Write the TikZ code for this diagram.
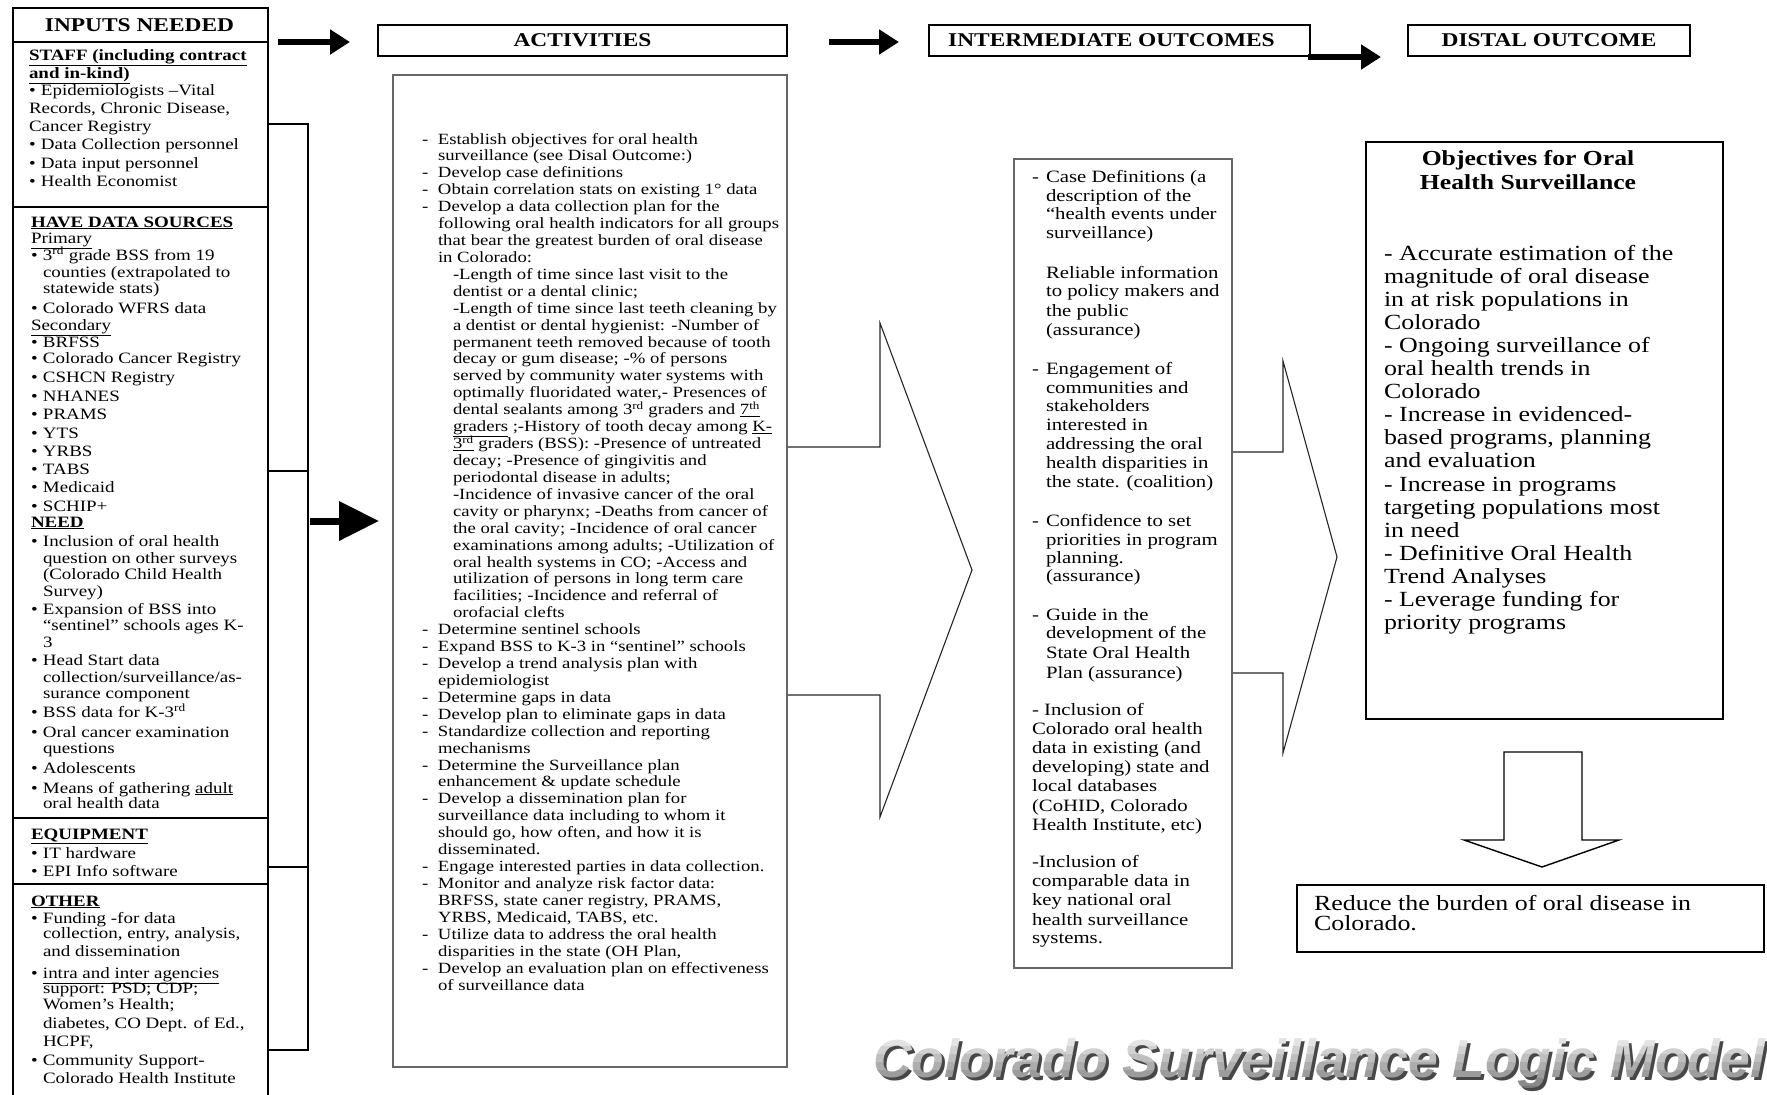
\documentclass[tikz,border=0pt]{standalone}
\usepackage{fontspec}
\setmainfont{Liberation Serif}[FakeStretch=1.2]
\newfontfamily\titlefont{Liberation Sans}
\usetikzlibrary{arrows.meta}

\newcommand\fs[2]{\fontsize{#1}{#2}\selectfont}
% bullets and indents of the inputs column
\newcommand\bul{\makebox[12pt][l]{\textbullet}}
\newcommand\ind{\hspace*{12pt}}
% dashes and indents of the activities column
\newcommand\adash{\makebox[16pt][l]{-}}
\newcommand\aind{\hspace*{16pt}}
\newcommand\asub{\hspace*{31pt}}
% dashes and indents of the outcomes column
\newcommand\odash{\makebox[14pt][l]{-}}
\newcommand\oind{\hspace*{14pt}}
\newcommand\titletext{Colorado Surveillance Logic Model}

% lines at given baselines: name prefix, x, list of y/text
\newcommand\placelines[3]{%
  \foreach \yy/\ln [count=\k] in {#3}{\node[txt] (#1\k) at (#2,\yy) {\ln};}}
% evenly spaced lines: name prefix, x, first baseline, skip, list of texts
\newcommand\evenlines[5]{%
  \foreach \ln [count=\k] in {#5}{\node[txt] (#1\k) at ({#2},{#3+(\k-1)*#4}) {\ln};}}

\begin{document}
\begin{tikzpicture}[x=1pt,y=-1pt,
  txt/.style={anchor=base west, inner sep=0pt, outer sep=0pt},
  frame/.style={draw=black, line width=1.6pt},
  grayframe/.style={draw=black!60, line width=1.8pt},
  hdr/.style={frame, inner sep=0pt, minimum height=31pt, font=\bfseries\fs{19.5}{21}},
  box/.style={inner sep=0pt, anchor=north west},
  thinline/.style={draw=black, line width=1.1pt},
  chevron/.style={draw=black!85, line width=1.1pt, line join=miter},
  blockarrow/.style={line width=6pt, -{Triangle[length=20pt,width=24pt]}},
  bigarrow/.style={line width=7pt, -{Triangle[length=40pt,width=38pt]}},
  titlestyle/.style={anchor=base west, inner sep=0pt, font=\titlefont\bfseries\itshape\fs{53.5}{60}},
]
\useasboundingbox (0,0) rectangle (1767,1095);
\fill[white] (0,0) rectangle (1767,1095);

%% ---------- inputs column ----------
\node[box, frame, minimum width=255pt, minimum height=1100pt] (inputs) at (12,7) {};
\node[anchor=center, inner sep=0pt, font=\bfseries\fs{19.5}{21}] (inputshead) at (139.5,25) {INPUTS NEEDED};
\foreach \yy in {42,207,818,884}{\draw[line width=1.6pt] (12,\yy) -- (267,\yy);}

\begin{scope}[every node/.append style={font=\fs{15.8}{18}}]
\placelines{staff}{29}{
  60/{\underline{\textbf{STAFF (including contract}}},
  78/{\underline{\textbf{and in-kind)}}},
  95/{\bul Epidemiologists –Vital},
  113/{Records, Chronic Disease,},
  131/{Cancer Registry},
  149/{\bul Data Collection personnel},
  168/{\bul Data input personnel},
  186/{\bul Health Economist}}
\placelines{src}{31}{
  227/{\underline{\textbf{HAVE DATA SOURCES}}},
  243/{\underline{Primary}},
  260/{\bul 3\textsuperscript{rd} grade BSS from 19},
  277/{\ind counties (extrapolated to},
  293/{\ind statewide stats)},
  313/{\bul Colorado WFRS data},
  330/{\underline{Secondary}},
  347/{\bul BRFSS},
  363/{\bul Colorado Cancer Registry},
  382/{\bul CSHCN Registry},
  401/{\bul NHANES},
  419/{\bul PRAMS},
  438/{\bul YTS},
  456/{\bul YRBS},
  474/{\bul TABS},
  492/{\bul Medicaid},
  511/{\bul SCHIP+}}
\placelines{need}{31}{
  527/{\underline{\textbf{NEED}}},
  546/{\bul Inclusion of oral health},
  563/{\ind question on other surveys},
  579/{\ind (Colorado Child Health},
  596/{\ind Survey)},
  614/{\bul Expansion of BSS into},
  630/{\ind ``sentinel'' schools ages K-},
  647/{\ind 3},
  665/{\bul Head Start data},
  682/{\ind collection/surveillance/as-},
  698/{\ind surance component},
  717/{\bul BSS data for K-3\textsuperscript{rd}},
  737/{\bul Oral cancer examination},
  753/{\ind questions},
  773/{\bul Adolescents},
  793/{\bul Means of gathering \underline{adult}},
  808/{\ind oral health data}}
\placelines{equip}{31}{
  839/{\underline{\textbf{EQUIPMENT}}},
  858/{\bul IT hardware},
  876/{\bul EPI Info software}}
\placelines{other}{31}{
  906/{\underline{\textbf{OTHER}}},
  923/{\bul Funding -for data},
  938/{\ind collection, entry, analysis,},
  956/{\ind and dissemination},
  978/{\bul \underline{intra and inter agencies}},
  993/{\ind support: PSD; CDP;},
  1009/{\ind Women’s Health;},
  1028/{\ind diabetes, CO Dept. of Ed.,},
  1046/{\ind HCPF,},
  1065/{\bul Community Support-},
  1083/{\ind Colorado Health Institute}}
\end{scope}

% bracket gathering the inputs
\coordinate (brtop) at (308,124);
\coordinate (brbot) at (308,1050);
\draw[thinline] (267,124) -- (brtop) -- (brbot) -- (267,1050);
\draw[thinline] (267,471) -- (308,471);
\draw[thinline] (267,867) -- (308,867);
\coordinate (bigs) at (310,521);
\coordinate (bige) at (379,521);
\draw[bigarrow] (bigs) -- (bige);

%% ---------- column headers ----------
\node[hdr, minimum width=409pt] (acthead) at (582.5,40.5) {ACTIVITIES};
\node[hdr, minimum width=381pt] (inthead) at (1119.5,40.5) {INTERMEDIATE OUTCOMES\hspace*{16pt}};
\node[hdr, minimum width=282pt] (disthead) at (1549,40.5) {DISTAL OUTCOME};
\coordinate (a1s) at (278,42);  \coordinate (a1e) at (350,42);
\coordinate (a2s) at (829,42);  \coordinate (a2e) at (899,42);
\coordinate (a3s) at (1308,57); \coordinate (a3e) at (1381,57);
\draw[blockarrow] (a1s) -- (a1e);
\draw[blockarrow] (a2s) -- (a2e);
\draw[blockarrow] (a3s) -- (a3e);

%% ---------- activities ----------
\node[box, grayframe, minimum width=394pt, minimum height=992pt] (actbox) at (392,74) {};
\begin{scope}[every node/.append style={font=\fs{15.6}{17}}]
\evenlines{act}{422}{144}{16.92}{
  {\adash Establish objectives for oral health},
  {\aind surveillance (see Disal Outcome:)},
  {\adash Develop case definitions},
  {\adash Obtain correlation stats on existing 1° data},
  {\adash Develop a data collection plan for the},
  {\aind following oral health indicators for all groups},
  {\aind that bear the greatest burden of oral disease},
  {\aind in Colorado:},
  {\asub -Length of time since last visit to the},
  {\asub dentist or a dental clinic;},
  {\asub -Length of time since last teeth cleaning by},
  {\asub a dentist or dental hygienist: -Number of},
  {\asub permanent teeth removed because of tooth},
  {\asub decay or gum disease; -\% of persons},
  {\asub served by community water systems with},
  {\asub optimally fluoridated water,- Presences of},
  {\asub dental sealants among 3\textsuperscript{rd} graders and \underline{7\textsuperscript{th}}},
  {\asub \underline{graders} ;-History of tooth decay among \underline{K-}},
  {\asub \underline{3\textsuperscript{rd}} graders (BSS): -Presence of untreated},
  {\asub decay; -Presence of gingivitis and},
  {\asub periodontal disease in adults;},
  {\asub -Incidence of invasive cancer of the oral},
  {\asub cavity or pharynx; -Deaths from cancer of},
  {\asub the oral cavity; -Incidence of oral cancer},
  {\asub examinations among adults; -Utilization of},
  {\asub oral health systems in CO; -Access and},
  {\asub utilization of persons in long term care},
  {\asub facilities; -Incidence and referral of},
  {\asub orofacial clefts},
  {\adash Determine sentinel schools},
  {\adash Expand BSS to K-3 in ``sentinel'' schools},
  {\adash Develop a trend analysis plan with},
  {\aind epidemiologist},
  {\adash Determine gaps in data},
  {\adash Develop plan to eliminate gaps in data},
  {\adash Standardize collection and reporting},
  {\aind mechanisms},
  {\adash Determine the Surveillance plan},
  {\aind enhancement \& update schedule},
  {\adash Develop a dissemination plan for},
  {\aind surveillance data including to whom it},
  {\aind should go, how often, and how it is},
  {\aind disseminated.},
  {\adash Engage interested parties in data collection.},
  {\adash Monitor and analyze risk factor data:},
  {\aind BRFSS, state caner registry, PRAMS,},
  {\aind YRBS, Medicaid, TABS, etc.},
  {\adash Utilize data to address the oral health},
  {\aind disparities in the state (OH Plan,},
  {\adash Develop an evaluation plan on effectiveness},
  {\aind of surveillance data}}
\end{scope}

% open chevron from activities to outcomes
\draw[chevron] (actbox.east |- 0,447) -- (880,447) -- (880,323) -- (972,570)
  -- (880,817) -- (880,695) -- (actbox.east |- 0,695);

%% ---------- intermediate outcomes ----------
\node[box, grayframe, minimum width=218pt, minimum height=809pt] (intbox) at (1013,158) {};
\begin{scope}[every node/.append style={font=\fs{17.3}{19}}]
\placelines{io}{1032}{
  182/{\odash Case Definitions (a},
  201/{\oind description of the},
  219/{\oind “health events under},
  238/{\oind surveillance)},
  278/{\oind Reliable information},
  296/{\oind to policy makers and},
  316/{\oind the public},
  335/{\oind (assurance)},
  374/{\odash Engagement of},
  393/{\oind communities and},
  411/{\oind stakeholders},
  430/{\oind interested in},
  449/{\oind addressing the oral},
  468/{\oind health disparities in},
  487/{\oind the state. (coalition)},
  526/{\odash Confidence to set},
  545/{\oind priorities in program},
  563/{\oind planning.},
  581/{\oind (assurance)},
  620/{\odash Guide in the},
  638/{\oind development of the},
  658/{\oind State Oral Health},
  678/{\oind Plan (assurance)},
  715/{- Inclusion of},
  734/{Colorado oral health},
  753/{data in existing (and},
  772/{developing) state and},
  791/{local databases},
  811/{(CoHID, Colorado},
  830/{Health Institute, etc)},
  867/{-Inclusion of},
  886/{comparable data in},
  905/{key national oral},
  925/{health surveillance},
  943/{systems.}}
\end{scope}

% open chevron from outcomes to the distal objectives
\draw[chevron] (intbox.east |- 0,452) -- (1283,452) -- (1283,361) -- (1337,557)
  -- (1283,753) -- (1283,673) -- (intbox.east |- 0,673);

%% ---------- distal outcome ----------
\node[box, frame, minimum width=357pt, minimum height=577pt] (objbox) at (1365,141) {};
\node[anchor=base, inner sep=0pt, align=center, font=\bfseries\fs{21.4}{24}] (objtitle)
  at (1528,189) {Objectives for Oral\\Health Surveillance};
\begin{scope}[every node/.append style={font=\fs{21.6}{23}}]
\evenlines{obj}{1384}{260}{23.1}{
  {- Accurate estimation of the},
  {magnitude of oral disease},
  {in at risk populations in},
  {Colorado},
  {- Ongoing surveillance of},
  {oral health trends in},
  {Colorado},
  {- Increase in evidenced-},
  {based programs, planning},
  {and evaluation},
  {- Increase in programs},
  {targeting populations most},
  {in need},
  {- Definitive Oral Health},
  {Trend Analyses},
  {- Leverage funding for},
  {priority programs}}
\end{scope}

% hollow arrow down to the goal
\draw[line width=1.4pt, line join=miter] (1504,752) -- (1582,752) -- (1582,840) -- (1619,840)
  -- (1542,867) -- (1464,840) -- (1504,840) -- cycle;

\node[box, frame, minimum width=467pt, minimum height=67pt] (goalbox) at (1296,884) {};
\begin{scope}[every node/.append style={font=\fs{21.6}{23}}]
\placelines{goal}{1314}{
  910/{Reduce the burden of oral disease in},
  930/{Colorado.}}
\end{scope}

%% ---------- title ----------
\node[titlestyle, text=black!72] (titleshadow) at (876,1080) {\titletext};
\foreach \b in {0,...,7}{
  \pgfmathtruncatemacro\pc{4+\b*7}
  \begin{scope}
    \clip (860,{1030+\b*8}) rectangle (1767,{1038+\b*8});
    \node[titlestyle, text=black!\pc] (titleband\b) at (873,1077) {\titletext};
  \end{scope}
}
\end{tikzpicture}
\end{document}
